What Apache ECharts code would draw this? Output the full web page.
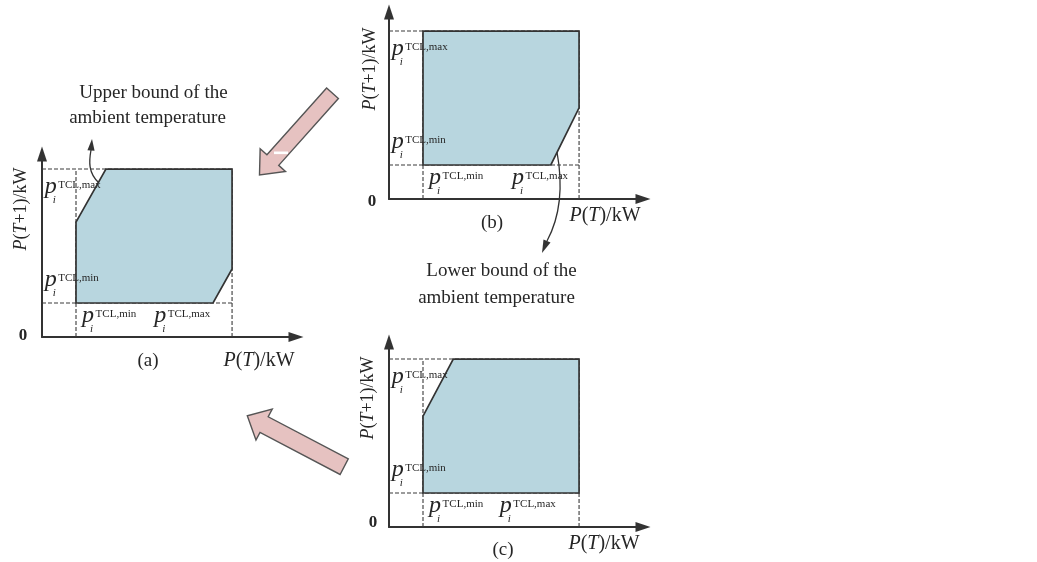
<!DOCTYPE html>
<html><head><meta charset="utf-8">
<script src="https://cdn.jsdelivr.net/npm/echarts@6/dist/echarts.min.js"></script>
<style>html,body{margin:0;padding:0;background:#fff}#c{width:1037px;height:562px}</style>
</head><body><div id="c"></div>
<script>
// ---------- data ----------
const panelNames = ['(a)', '(b)', '(c)'];
const boundNames = ['TCL,min', 'TCL,max'];          // p_i^{TCL,min}, p_i^{TCL,max}
const xAxisTitle = 'P(T)/kW';
const yAxisTitle = 'P(T+1)/kW';
const xBounds = [1.0, 5.59];                         // bounds on the P(T) axis
const yBounds = [1.0, 4.94];                         // bounds on the P(T+1) axis
// feasible region vertices of each panel
const regionAx = [1.0, 1.88, 5.59, 5.59, 5.03, 1.0];
const regionAy = [3.38, 4.94, 4.94, 2.0, 1.0, 1.0];
const regionBx = [1.0, 5.59, 5.59, 4.76, 1.0];
const regionBy = [4.94, 4.94, 2.68, 1.0, 1.0];
const regionCx = [1.0, 1.0, 1.89, 5.59, 5.59];
const regionCy = [1.0, 3.26, 4.94, 4.94, 1.0];
const upperNote = ['Upper bound of the', 'ambient temperature'];
const lowerNote = ['Lower bound of the', 'ambient temperature'];

// ---------- style / layout ----------
const regionX = [regionAx, regionBx, regionCx];
const regionY = [regionAy, regionBy, regionCy];
const SERIF = '"Liberation Serif", "Times New Roman", serif';
const INK = '#262626', LINE = '#333333', FILL = '#b8d6df';
const PX = 34; // pixels per unit
const grids = [
  {left: 42, top: 154, width: 254, height: 183},
  {left: 389, top: 12, width: 254, height: 187},
  {left: 389, top: 342, width: 254, height: 185}
];
const layout = [
  {zero: [-19, -1], xName: [217, 24], yName: [-21, -128], tag: [106, 24], xMaxLabel: 3.30},
  {zero: [-17, 3], xName: [216, 17], yName: [-19, -130], tag: [103, 24], xMaxLabel: 3.62},
  {zero: [-16, -4], xName: [215, 17], yName: [-21, -129], tag: [114, 23], xMaxLabel: 3.26}
];
const yLabelX = 0.08, yLabelBase = [1.455, 4.185], xLabelX = 1.18, xLabelBase = 0.375;

function txt(x, baseline, text, font, size, align) {
  return {type: 'text', x: x, y: baseline - 0.34 * size,
    style: {text: text, font: font, fill: INK, align: align || 'left', verticalAlign: 'middle'}};
}
function richName(s) {
  return s.replace(/([PT])|([^PT]+)/g, (m, a, b) => a ? '{i|' + a + '}' : '{n|' + b + '}');
}
function nameText(x, y, s, size, rot) {
  return {type: 'text', x: x, y: y, rotation: rot || 0,
    style: {text: richName(s), align: 'center', verticalAlign: 'middle', font: size + 'px ' + SERIF, fill: INK,
      rich: {i: {fontFamily: SERIF, fontSize: size, fontStyle: 'italic', fill: INK},
             n: {fontFamily: SERIF, fontSize: size, fill: INK}}}};
}
function pLabel(kids, p, sup) {
  const x = p[0], b = p[1];
  kids.push(txt(x, b, 'p', 'italic 24px ' + SERIF, 24));
  kids.push(txt(x + 13.5, b - 6, sup, '11px ' + SERIF, 11));
  kids.push(txt(x + 8, b + 9, 'i', 'italic 11px ' + SERIF, 11));
}
function renderPanel(k) {
  return function (params, api) {
    if (params.dataIndex !== 0) return;
    const c = (x, y) => api.coord([x, y]);
    const O = c(0, 0);
    const L = layout[k];
    const kids = [];
    [[0, yBounds[0], xBounds[1], yBounds[0]], [0, yBounds[1], xBounds[1], yBounds[1]],
     [xBounds[0], 0, xBounds[0], yBounds[1]], [xBounds[1], 0, xBounds[1], yBounds[1]]].forEach(g => {
      const a = c(g[0], g[1]), b = c(g[2], g[3]);
      kids.push({type: 'line', shape: {x1: a[0], y1: a[1], x2: b[0], y2: b[1]},
        style: {stroke: '#3a3a3a', lineWidth: 1.1, lineDash: [4, 2]}});
    });
    const pts = regionX[k].map((x, i) => c(x, regionY[k][i]));
    kids.push({type: 'polygon', shape: {points: pts}, style: {fill: FILL, stroke: LINE, lineWidth: 1.7}});
    pLabel(kids, c(yLabelX, yLabelBase[1]), boundNames[1]);
    pLabel(kids, c(yLabelX, yLabelBase[0]), boundNames[0]);
    pLabel(kids, c(xLabelX, xLabelBase), boundNames[0]);
    pLabel(kids, c(L.xMaxLabel, xLabelBase), boundNames[1]);
    kids.push({type: 'text', x: O[0] + L.zero[0], y: O[1] + L.zero[1],
      style: {text: '0', font: 'bold 17px ' + SERIF, fill: INK, align: 'center', verticalAlign: 'middle'}});
    kids.push(nameText(O[0] + L.xName[0], O[1] + L.xName[1], xAxisTitle, 20, 0));
    kids.push(nameText(O[0] + L.yName[0], O[1] + L.yName[1], yAxisTitle, 18, Math.PI / 2));
    kids.push({type: 'text', x: O[0] + L.tag[0], y: O[1] + L.tag[1],
      style: {text: panelNames[k], font: '19px ' + SERIF, fill: INK, align: 'center', verticalAlign: 'middle'}});
    return {type: 'group', children: kids};
  };
}

function blockArrow(tail, tip, sw, hw, hl) {
  const dx = tip[0] - tail[0], dy = tip[1] - tail[1], len = Math.hypot(dx, dy);
  const ux = dx / len, uy = dy / len, nx = -uy, ny = ux;
  const bx = tip[0] - ux * hl, by = tip[1] - uy * hl;
  return [[tail[0] + nx * sw, tail[1] + ny * sw], [bx + nx * sw, by + ny * sw], [bx + nx * hw, by + ny * hw],
    tip, [bx - nx * hw, by - ny * hw], [bx - nx * sw, by - ny * sw], [tail[0] - nx * sw, tail[1] - ny * sw]];
}
function headPts(end, tip, hw) {
  const dx = tip[0] - end[0], dy = tip[1] - end[1], len = Math.hypot(dx, dy);
  const nx = -dy / len, ny = dx / len;
  return [tip, [end[0] + nx * hw, end[1] + ny * hw], [end[0] - nx * hw, end[1] - ny * hw]];
}

const chart = echarts.init(document.getElementById('c'), null, {renderer: 'canvas'});
const graphic = [
  {type: 'polygon', shape: {points: blockArrow([332.5, 93.3], [259.5, 175], 7.9, 17, 20)},
    style: {fill: '#e6c2c1', stroke: '#555', lineWidth: 1.4}},
  {type: 'rect', shape: {x: 274, y: 151.5, width: 14, height: 2.6}, style: {fill: '#ffffff'}},
  {type: 'polygon', shape: {points: blockArrow([344.2, 466.7], [247.3, 415.7], 8.8, 17.5, 19)},
    style: {fill: '#e6c2c1', stroke: '#555', lineWidth: 1.4}},
  {type: 'bezierCurve', shape: {x1: 99, y1: 183, cpx1: 88, cpy1: 173, cpx2: 89, cpy2: 161, x2: 91, y2: 150},
    style: {stroke: LINE, fill: 'none', lineWidth: 1.3}},
  {type: 'polygon', shape: {points: headPts([91, 150.5], [92, 139], 3.6)}, style: {fill: LINE}},
  {type: 'bezierCurve', shape: {x1: 557, y1: 152, cpx1: 563, cpy1: 185, cpx2: 561, cpy2: 215, x2: 547, y2: 241},
    style: {stroke: LINE, fill: 'none', lineWidth: 1.3}},
  {type: 'polygon', shape: {points: headPts([547, 241], [542, 253], 3.8)}, style: {fill: LINE}},
  {type: 'text', x: 153.5, y: 93.5, style: {text: upperNote[0], font: '19px ' + SERIF, fill: INK, align: 'center', verticalAlign: 'middle'}},
  {type: 'text', x: 147.5, y: 118.5, style: {text: upperNote[1], font: '19px ' + SERIF, fill: INK, align: 'center', verticalAlign: 'middle'}},
  {type: 'text', x: 501.5, y: 271, style: {text: lowerNote[0], font: '19px ' + SERIF, fill: INK, align: 'center', verticalAlign: 'middle'}},
  {type: 'text', x: 496.5, y: 298, style: {text: lowerNote[1], font: '19px ' + SERIF, fill: INK, align: 'center', verticalAlign: 'middle'}}
];

const axisCommon = {
  type: 'value', min: 0,
  axisLine: {show: true, onZero: false, lineStyle: {color: LINE, width: 2}, symbol: ['none', 'triangle'], symbolSize: [10, 15]},
  axisTick: {show: false}, axisLabel: {show: false}, splitLine: {show: false}
};
chart.setOption({
  backgroundColor: '#ffffff',
  animation: false,
  grid: grids.map(g => Object.assign({containLabel: false}, g)),
  xAxis: grids.map((g, i) => Object.assign({}, axisCommon, {gridIndex: i, max: g.width / PX})),
  yAxis: grids.map((g, i) => Object.assign({}, axisCommon, {gridIndex: i, max: g.height / PX})),
  series: [0, 1, 2].map(k => ({
    type: 'custom', xAxisIndex: k, yAxisIndex: k, clip: false,
    data: regionX[k].map((x, i) => [x, regionY[k][i]]),
    renderItem: renderPanel(k)
  })),
  graphic: graphic
});
</script></body></html>
